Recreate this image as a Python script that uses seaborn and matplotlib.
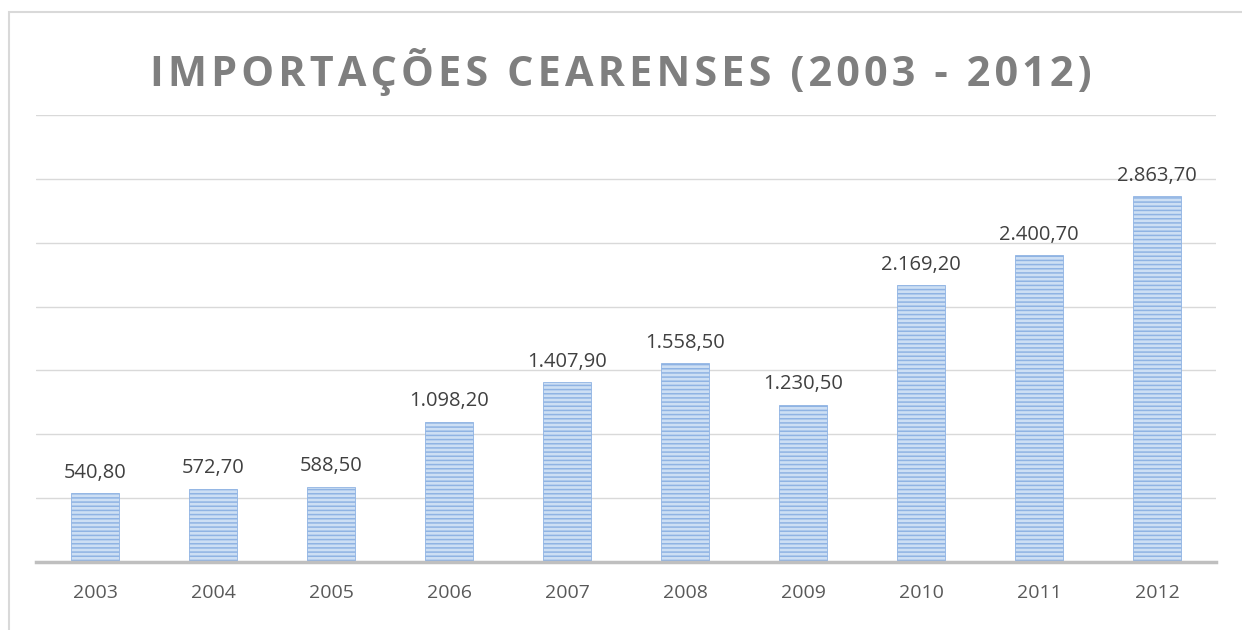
import matplotlib
matplotlib.use("Agg")
import matplotlib.pyplot as plt
import seaborn as sns
import pandas as pd
from matplotlib.patches import Rectangle

years = ["2003", "2004", "2005", "2006", "2007", "2008", "2009", "2010", "2011", "2012"]
values = [540.8, 572.7, 588.5, 1098.2, 1407.9, 1558.5, 1230.5, 2169.2, 2400.7, 2863.7]
title = "IMPORTAÇÕES CEARENSES (2003 - 2012)"

def br(v):
    s = f"{v:,.2f}"
    return s.replace(",", "X").replace(".", ",").replace("X", ".")

sns.set_theme(style="white")
plt.rcParams['font.family'] = ['Open Sans', 'DejaVu Sans']
plt.rcParams['hatch.linewidth'] = 1.1

df = pd.DataFrame({"ano": years, "valor": values})

fig = plt.figure(figsize=(12.42, 6.3), dpi=100)
ax = fig.add_axes([36/1242, 1-562/630, (1216-36)/1242, (562-115)/630])

sns.barplot(data=df, x="ano", y="valor", ax=ax, color="#cddff4", width=0.41,
            saturation=1, edgecolor="#8fb3e3", linewidth=0.6)
for p in ax.patches:
    p.set_hatch("----")

ax.set_ylim(0, 3500)
ax.set_xlim(-0.5, len(years) - 0.5)
ax.set_yticks(range(500, 3501, 500))
ax.yaxis.grid(True, color="#d9d9d9", linewidth=1.0)
ax.set_axisbelow(True)
ax.tick_params(axis="y", left=False, labelleft=False)
ax.tick_params(axis="x", bottom=False, labelsize=14, colors="#595959", pad=10)
ax.set_xlabel("")
ax.set_ylabel("")
for s in ["top", "right", "left"]:
    ax.spines[s].set_visible(False)
ax.spines["bottom"].set_color("#bfbfbf")
ax.spines["bottom"].set_linewidth(2.5)

for i, v in enumerate(values):
    ax.annotate(br(v), (i, v), xytext=(0, 7.5), textcoords="offset points",
                ha="center", va="bottom", fontsize=14.5, color="#404040")

spaced = "\u200a".join(title)
fig.text(0.5, 1-72/630, spaced, ha="center", va="center", fontsize=29.8,
         fontweight="bold", color="#7f7f7f")

fig.patches.append(Rectangle((9/1242, -0.1), 1.2, 1-12/630+0.1, transform=fig.transFigure,
                             fill=False, edgecolor="#d9d9d9", linewidth=1.5, zorder=-1))

fig.savefig("out.png", dpi=100)
